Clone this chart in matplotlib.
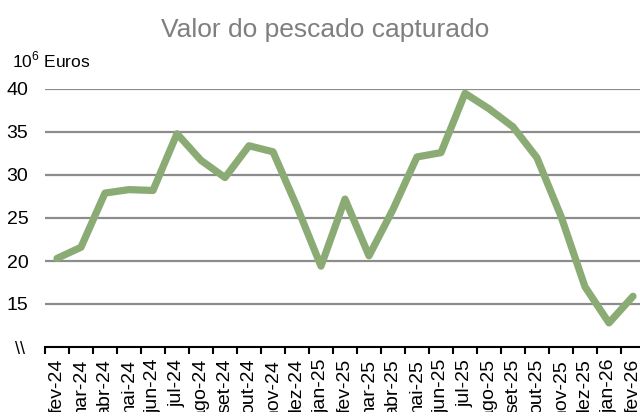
"""Valor do pescado capturado: monthly line chart, Excel-style layout."""
import matplotlib

matplotlib.use("Agg")
import matplotlib.pyplot as plt  # noqa: E402
import numpy as np  # noqa: E402

months = ["fev-24", "mar-24", "abr-24", "mai-24", "jun-24", "jul-24", "ago-24", "set-24",
          "out-24", "nov-24", "dez-24", "jan-25", "fev-25", "mar-25", "abr-25", "mai-25",
          "jun-25", "jul-25", "ago-25", "set-25", "out-25", "nov-25", "dez-25", "jan-26",
          "fev-26"]
valor = [20.3, 21.6, 27.9, 28.3, 28.2, 34.8, 31.7, 29.7, 33.4, 32.7, 26.3, 19.4, 27.2,
         20.6, 26.0, 32.1, 32.6, 39.5, 37.7, 35.6, 32.0, 25.2, 17.0, 12.8, 15.9]
y_ticks = [15, 20, 25, 30, 35, 40]

plt.rcParams["font.family"] = ["Liberation Sans", "DejaVu Sans"]
plt.rcParams["mathtext.fontset"] = "custom"
plt.rcParams["mathtext.rm"] = "Liberation Sans"

W, H = 640, 412
fig = plt.figure(figsize=(W / 100, H / 100), dpi=100)
# plot area runs slightly past the right edge, like the cropped original
ax = fig.add_axes([45 / W, 65 / H, 600 / W, 258 / H])

x = np.arange(len(months))
ax.plot(x, valor, color="#8bab74", lw=5.2, solid_joinstyle="round",
        solid_capstyle="round", clip_on=False, zorder=3)

ax.set_xlim(-0.5, len(months) - 0.5)
ax.set_ylim(10, 40)
ax.set_yticks(y_ticks)
ax.set_yticklabels([str(v) for v in y_ticks])
ax.grid(axis="y", color="#8c8c8c", lw=1.6)
ax.set_axisbelow(True)

ax.set_xticks(x)
ax.set_xticklabels(months, rotation=90, va="top", ha="center")
ax.set_xticks(np.arange(-0.5, len(months)), minor=True)
ax.tick_params(axis="x", which="major", length=0, pad=8.5, labelsize=14)
ax.tick_params(axis="x", which="minor", length=5, width=1.5, color="black")
ax.tick_params(axis="y", length=0, pad=12, labelsize=14)

for s in ("top", "right", "left"):
    ax.spines[s].set_visible(False)
ax.spines["bottom"].set_linewidth(1.5)
ax.spines["bottom"].set_color("black")

fig.text(325 / W, 1 - 36.5 / H, "Valor do pescado capturado", ha="center", va="baseline",
         fontsize=19, color="#7f7f7f")
fig.text(12 / W, 1 - 67 / H, r"10$^6$ Euros", ha="left", va="baseline", fontsize=12.5)
fig.text(20 / W, 1 - 349 / H, "\\\\", ha="center", va="center", fontsize=13)

fig.savefig("out.png", dpi=100)
plt.close(fig)
